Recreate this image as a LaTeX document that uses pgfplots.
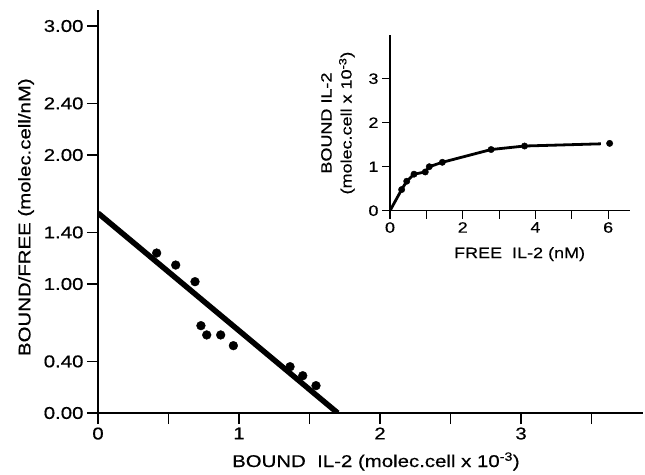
\documentclass[border=0pt]{standalone}
\usepackage{fontspec}
\setmainfont{Liberation Sans}[FakeStretch=1.2, FakeBold=0.5]
\usepackage{pgfplots}
\pgfplotsset{compat=1.18}
\newcommand{\fsA}{\fontsize{17}{20}\selectfont}
\newcommand{\fsB}{\fontsize{15}{20}\selectfont}

\begin{document}
\begin{tikzpicture}
% main Scatchard plot
\begin{axis}[
    at={(98pt,61pt)}, anchor=south west,
    scale only axis, width=545pt, height=403pt,
    xmin=0, xmax=3.865, ymin=0, ymax=3.124,
    axis lines=left, axis line style={-, line width=1.4pt},
    xtick={0,1,2,3}, xticklabels={0,1,2,3},
    minor xtick={0.5,1.5,2.5,3.5},
    ytick={0,0.4,1,1.4,2,2.4,3},
    yticklabels={0.00,0.40,1.00,1.40,2.00,2.40,3.00},
    xtick pos=bottom, ytick pos=left,
    tick align=outside, major tick length=11pt, minor tick length=11pt,
    major tick style={black, line width=1.3pt},
    minor tick style={black, line width=1.3pt},
    ticklabel style={font=\fsA},
    label style={font=\fsA},
    xlabel={BOUND\ \ IL-2 (molec.cell x 10\textsuperscript{-3})},
    ylabel={BOUND/FREE (molec.cell/nM)},
    xlabel style={at={(axis description cs:0.51,-0.134)}, anchor=base},
    ylabel style={at={(axis description cs:-0.132,0.486)}, anchor=center},
]
\addplot[black, line width=5.5pt] coordinates {(0,1.55) (1.70,0)};
\addplot[only marks, mark=*, mark size=4.4pt, black] coordinates {
    (0.416,1.24) (0.551,1.147) (0.688,1.018) (0.730,0.677) (0.771,0.605)
    (0.870,0.605) (0.960,0.522) (1.362,0.359) (1.452,0.289) (1.546,0.212)
};
\end{axis}

% inset saturation curve
\begin{axis}[
    at={(390pt,263.3pt)}, anchor=south west,
    scale only axis, width=240pt, height=176pt,
    xmin=0, xmax=6.6, ymin=0, ymax=4.0,
    axis lines=left, axis line style={-, line width=1.2pt},
    xtick={0,2,4,6}, xticklabels={0,2,4,6},
    minor xtick={1,3,5},
    ytick={0,1,2,3}, yticklabels={0,1,2,3},
    xtick pos=bottom, ytick pos=left,
    tick align=outside, major tick length=8pt, minor tick length=8pt,
    major tick style={black, line width=1.1pt},
    minor tick style={black, line width=1.1pt},
    ticklabel style={font=\fsB},
    label style={font=\fsB},
    xlabel={FREE\ \ IL-2 (nM)},
    ylabel={BOUND IL-2\\(molec.cell x 10\textsuperscript{-3})},
    xlabel style={at={(axis description cs:0.54,-0.269)}, anchor=base},
    ylabel style={at={(axis description cs:-0.217,0.498)}, anchor=center, align=center},
]
\addplot[black, line width=2.8pt] coordinates {
    (0,0) (0.32,0.48) (0.46,0.67) (0.66,0.83) (0.97,0.88) (1.08,1.00)
    (1.44,1.10) (2.78,1.39) (3.70,1.47) (5.8,1.52)
};
\addplot[only marks, mark=*, mark size=3.2pt, black] coordinates {
    (0.32,0.48) (0.46,0.67) (0.66,0.83) (0.97,0.88) (1.08,1.00)
    (1.44,1.10) (2.78,1.39) (3.70,1.47) (6.04,1.53)
};
\end{axis}

\pgfresetboundingbox
\useasboundingbox (0,0) rectangle (645pt,474pt);
\end{tikzpicture}
\end{document}
